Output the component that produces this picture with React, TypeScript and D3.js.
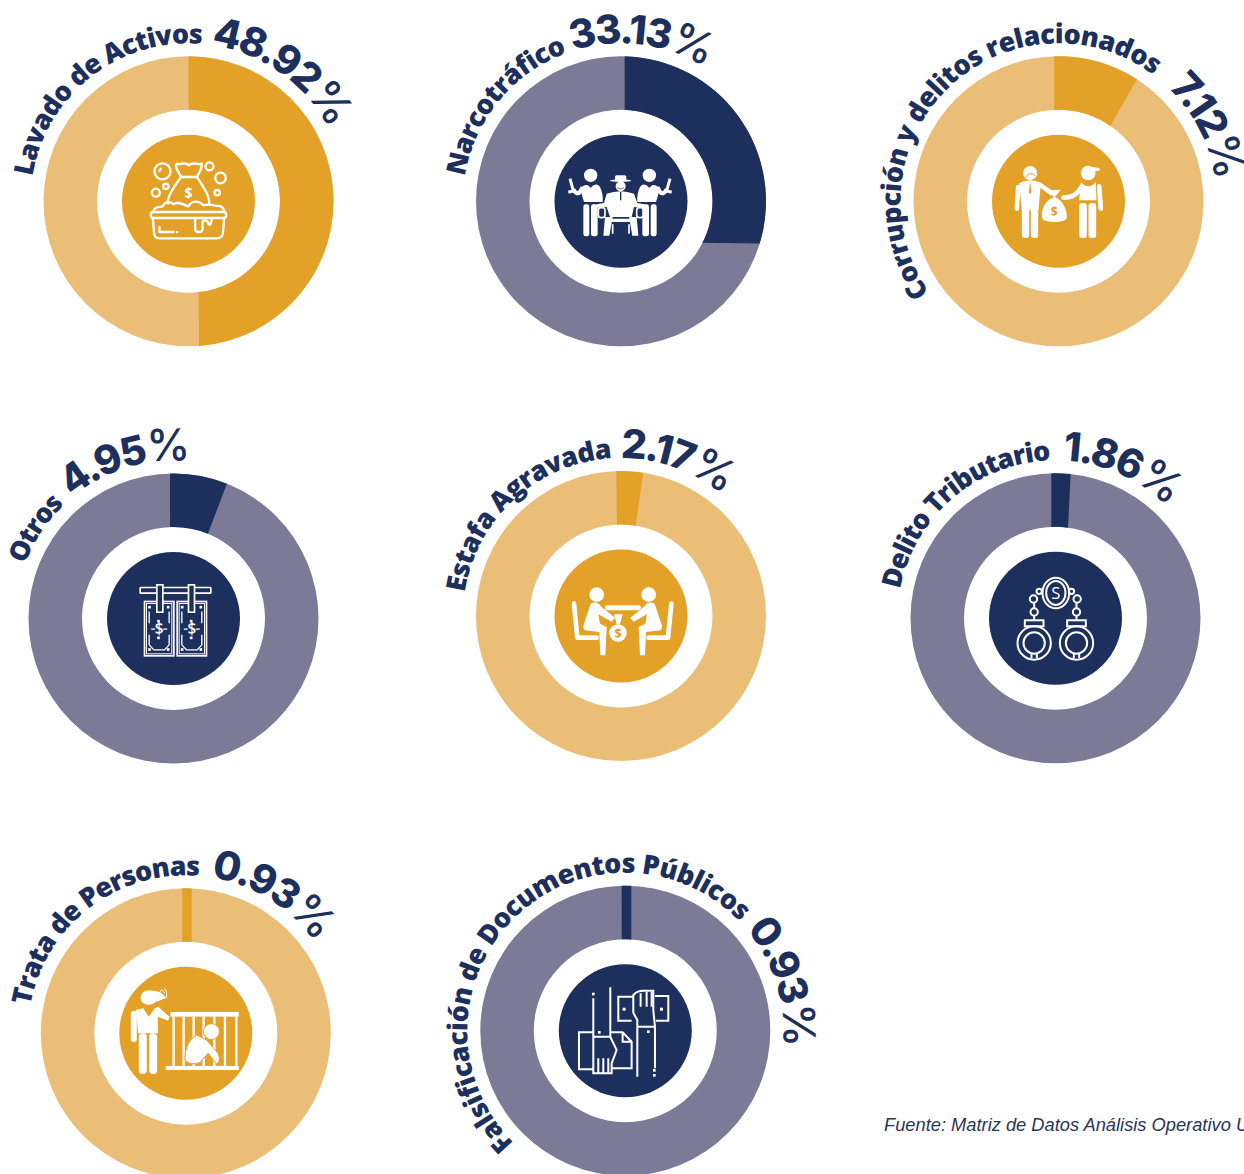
import React from "react";
import * as d3 from "d3";

// ---- data
const categories = ["Lavado de Activos","Narcotráfico","Corrupción y delitos relacionados","Otros","Estafa Agravada","Delito Tributario","Trata de Personas","Falsificación de Documentos Públicos"];
const valueLabels = ["48.92","33.13","7.12","4.95","2.17","1.86","0.93","0.93"];
const palettes = ["gold","navy","gold","navy","gold","navy","gold","navy"];
// drawn share of the ring (percent of the circle) at its outer and inner edges
const outerStart = [0, 0.4, -0.46, -0.38, -0.52, -0.46, -0.38, -0.4];
const outerEnd = [48.85, 29.7, 9.1, 6.0, 2.46, 1.67, 0.65, 0.66];
const innerStart = [0, 0.64, -0.73, -0.6, -0.7, -0.73, -0.61, -0.62];
const innerEnd = [48.2, 32.5, 9.6, 6.14, 2.56, 2.18, 1.03, 1.04];
const footnote = "Fuente: Matriz de Datos Análisis Operativo U";

// ---- layout
const W = 1244, H = 1174;
const R = 145, r = 91.5, hub = 66.5, textR = 158;
const centers: [number, number][] = [[188.5,201.3],[621,201.3],[1058.5,201.3],[173.5,618.5],[621,616],[1055.5,618.3],[185.8,1033.3],[625.3,1030.7]];
const labelSpan: [number, number][] = [[-81,5],[-81,-20],[-125.3,37],[-70,-43.7],[-81.5,-3.3],[-79.5,-1.7],[-80,5],[-135.2,46.4]];
const valueStart: number[] = [8.2,-17.8,44,-40,-0.2,2.5,9,49.8];
const colors: Record<string, { dark: string; light: string }> = {
  gold: { dark: "#E3A127", light: "#EBBE78" },
  navy: { dark: "#1D2F5C", light: "#7C7A96" },
};
const INK = "#1D2F5C";
const angle = d3.scaleLinear().domain([0, 100]).range([0, 2 * Math.PI]);
const ringArc = d3.arc<any>().innerRadius(r).outerRadius(R).startAngle(0).endAngle(2 * Math.PI);

function slicePath(os: number, oe: number, is: number, ie: number) {
  const q = -Math.PI / 2;
  const p = d3.path();
  p.arc(0, 0, R, angle(os) + q, angle(oe) + q, false);
  p.arc(0, 0, r, angle(ie) + q, angle(is) + q, true);
  p.closePath();
  return p.toString();
}
// full circle starting at the bottom, clockwise
function circlePath(rad: number) {
  return `M0,${rad}A${rad},${rad} 0 1 1 0,${-rad}A${rad},${rad} 0 1 1 0,${rad}`;
}
const W_ = "#fff";

function Icon0() {
  const s = { fill: "none", stroke: W_, strokeWidth: 7, strokeLinecap: "round" as const, strokeLinejoin: "round" as const };
  return <g {...s}>
    <circle cx={487} cy={513} r={24}/><circle cx={628} cy={498} r={12}/><circle cx={661} cy={533} r={16}/>
    <circle cx={497} cy={558} r={8}/><circle cx={467} cy={577} r={12}/><circle cx={651} cy={577} r={8}/>
    <path d="M482 505 L478 512"/>
    <path d="M543 530 C525 500 525 495 530 490 C545 496 552 482 565 495 C580 482 590 496 605 490 C605 510 595 520 590 530 Z"/>
    <path d="M543 530 C520 560 500 590 503 610"/><path d="M590 530 C610 560 630 590 627 610"/>
    <path d="M460 632 C465 615 480 622 488 618 C495 600 515 605 520 612 C535 600 550 615 565 618 C575 600 595 600 610 615 C625 610 640 615 650 617 C665 615 670 625 672 632"/>
    <rect x={452} y={635} width={226} height={18} rx={8}/>
    <path d="M458 655 L462 700 Q463 714 478 714 H650 Q666 714 668 700 L672 655"/>
    <path d="M585 655 V685 Q585 695 597 695 Q607 695 607 685 V665 Q607 660 615 660 Q625 662 625 672 Q632 678 635 655"/>
    <path d="M478 680 V695 H520"/><path d="M530 695 h1"/>
    <text x={565} y={592} textAnchor="middle" fontFamily="Open Sans" fontWeight={700} fontSize={42} fill={W_} stroke="none">$</text>
  </g>;
}
function Guard() {
  return <g fill={W_} stroke="none">
    <circle cx={482} cy={525} r={20}/>
    <path d="M450 565 Q470 545 482 562 Q498 545 510 560 Q520 580 518 605 L462 605 Z"/>
    <rect x={460} y={612} width={18} height={96} rx={7}/><rect x={483} y={612} width={20} height={96} rx={7}/>
    <path d="M455 565 Q445 590 432 570" stroke={W_} strokeWidth={12} fill="none" strokeLinecap="round"/>
    <path d="M420 535 L430 572 L415 576" stroke={W_} strokeWidth={9} fill="none"/>
  </g>;
}
function Icon1() {
  return <g fill={W_}>
    <Guard/><g transform="translate(1140,0) scale(-1,1)"><Guard/></g>
    <ellipse cx={572} cy={541} rx={32} ry={4}/><rect x={555} y={525} width={34} height={16} rx={5}/>
    <circle cx={572} cy={558} r={15}/>
    <path d="M562 562 Q572 570 582 562" stroke={INK} strokeWidth={2} fill="none"/>
    <path d="M530 580 Q572 565 612 580 L622 608 L642 612 L640 622 L612 620 L605 650 L540 650 L530 620 L500 622 L500 612 L522 608 Z"/>
    <path d="M572 575 V600" stroke={INK} strokeWidth={4}/>
    <rect x={505} y={622} width={20} height={30} rx={8} fill="none" stroke={W_} strokeWidth={5}/>
    <rect x={620} y={622} width={20} height={30} rx={8} fill="none" stroke={W_} strokeWidth={5}/>
    <path d="M525 650 L548 650 L538 706 L520 706 Z"/><path d="M620 650 L597 650 L607 706 L625 706 Z"/>
    <rect x={545} y={655} width={55} height={10} rx={2}/>
    <path d="M548 672 V700 M597 672 V700" stroke={W_} strokeWidth={5}/>
  </g>;
}
function Icon2() {
  return <g fill={W_}>
    <circle cx={498} cy={518} r={21}/>
    <path d="M485 530 Q498 512 512 526" stroke="#E3A127" strokeWidth={3} fill="none"/>
    <path d="M462 560 L458 625" stroke={W_} strokeWidth={14} strokeLinecap="round" fill="none"/>
    <path d="M525 552 L562 578" stroke={W_} strokeWidth={14} strokeLinecap="round" fill="none"/>
    <path d="M465 548 Q498 532 530 548 L523 630 H473 Z"/>
    <rect x={473} y={620} width={22} height={93} rx={9}/><rect x={500} y={620} width={22} height={93} rx={9}/>
    <path d="M498 545 L494 575 L498 582 L502 575 Z" fill="#E3A127"/>
    <path d="M548 570 L590 568 L572 590 C600 600 612 640 607 655 C597 668 545 668 535 655 C528 635 540 600 570 590Z"/>
    <text x={570} y={646} textAnchor="middle" fontFamily="Open Sans" fontWeight={700} fontSize={36} fill="#E3A127">$</text>
    <circle cx={672} cy={518} r={22}/><ellipse cx={690} cy={507} rx={18} ry={6}/>
    <path d="M652 560 C640 580 628 592 598 592" stroke={W_} strokeWidth={14} strokeLinecap="round" fill="none"/>
    <path d="M705 558 L710 625" stroke={W_} strokeWidth={14} strokeLinecap="round" fill="none"/>
    <path d="M650 545 Q672 570 695 545 L697 600 H645 Z"/>
    <rect x={645} y={608} width={23} height={105} rx={9}/><rect x={673} y={608} width={23} height={105} rx={9}/>
  </g>;
}
function Bill({ x }: { x: number }) {
  const sq = [[x + 11, 588],[x + 67, 588],[x + 11, 715],[x + 67, 715],[x + 38, 630],[x + 38, 680]];
  return <g>
    <rect x={x} y={575} width={88} height={163} stroke={W_} strokeWidth={5} fill="none"/>
    <rect x={x + 6} y={581} width={76} height={151} stroke={W_} strokeWidth={3} fill="none"/>
    {sq.map(([a, b], i) => <rect key={i} x={a} y={b} width={8} height={8} fill={W_}/>)}
    <path d={`M${x + 14} 605 V640 M${x + 74} 605 V640 M${x + 14} 675 V705 L${x + 28} 720 H${x + 60} L${x + 74} 705 V675`} stroke={W_} strokeWidth={4} fill="none"/>
    <text x={x + 44} y={672} textAnchor="middle" fontFamily="Open Sans" fontWeight={600} fontSize={46} fill={W_}>$</text>
    <path d={`M${x + 20} 658 h12 M${x + 56} 658 h12`} stroke={W_} strokeWidth={4}/>
  </g>;
}
function Icon3() {
  return <g>
    <Bill x={433}/><Bill x={531}/>
    <rect x={420} y={533} width={212} height={17} rx={2} fill={INK} stroke={W_} strokeWidth={5}/>
    <rect x={470} y={525} width={18} height={82} fill={INK} stroke={W_} strokeWidth={5}/>
    <rect x={565} y={525} width={18} height={82} fill={INK} stroke={W_} strokeWidth={5}/>
  </g>;
}
function Sitter() {
  return <g fill={W_}>
    <circle cx={500} cy={553} r={22}/>
    <path d="M482 580 Q500 570 515 590 L555 622 L545 634 L505 612 L510 640 L530 650 L526 735 L511 735 L508 665 L465 660 Q456 650 462 640 Z"/>
    <path d="M432 580 L442 682 H500" stroke={W_} strokeWidth={14} strokeLinecap="round" strokeLinejoin="round" fill="none"/>
  </g>;
}
function Icon4() {
  return <g fill={W_}>
    <Sitter/><g transform="translate(1156,0) scale(-1,1)"><Sitter/></g>
    <rect x={525} y={585} width={108} height={15} rx={7}/>
    <path d="M552 612 L578 612 L570 642 L560 642 Z"/><circle cx={564} cy={668} r={26}/>
    <text x={564} y={684} textAnchor="middle" fontFamily="Open Sans" fontWeight={700} fontSize={38} fill="#E3A127">$</text>
  </g>;
}
function Icon5() {
  const s = { fill: "none", stroke: W_, strokeWidth: 6 };
  const Cuff = ({ x }: { x: number }) => <g>
    <rect x={x - 28} y={632} width={56} height={18}/>
    <circle cx={x} cy={700} r={50}/><circle cx={x} cy={700} r={32}/>
    <path d={`M${x - 8} 745 v-13 M${x + 8} 745 v-13`}/>
  </g>;
  return <g {...s}>
    <ellipse cx={575} cy={550} rx={40} ry={46}/><ellipse cx={575} cy={550} rx={29} ry={36}/>
    <text x={575} y={568} textAnchor="middle" fontFamily="Open Sans" fontWeight={400} fontSize={50} fill={W_} stroke="none">S</text>
    <circle cx={525} cy={545} r={8}/><circle cx={508} cy={568} r={11}/><circle cx={510} cy={607} r={11}/>
    <circle cx={622} cy={545} r={8}/><circle cx={639} cy={568} r={11}/><circle cx={637} cy={607} r={11}/>
    <path d="M510 580 V596 M637 580 V596 M510 618 V632 M637 618 V632"/>
    <Cuff x={510}/><Cuff x={637}/>
  </g>;
}
function Icon6() {
  const bars = [518, 548, 578, 608, 640, 672, 706];
  return <g fill={W_}>
    <ellipse cx={447} cy={533} rx={25} ry={22}/>
    <path d="M440 515 Q480 505 498 534 L470 545 Z"/>
    <path d="M480 515 Q490 505 494 520 M494 505 Q505 515 498 535" stroke={W_} strokeWidth={3} fill="none"/>
    <path d="M408 570 L430 565 L447 590 L465 565 L476 560 Q490 575 510 590 L505 602 L474 590 V640 H415 Z"/>
    <rect x={393} y={572} width={18} height={94} rx={9}/>
    <rect x={417} y={640} width={24} height={122} rx={11}/><rect x={448} y={640} width={24} height={122} rx={11}/>
    <rect x={512} y={576} width={205} height={14}/><rect x={498} y={738} width={219} height={12}/>
    {bars.map((b) => <rect key={b} x={b} y={590} width={7} height={148}/>)}
    <circle cx={635} cy={635} r={24} stroke="#E3A127" strokeWidth={3}/>
    <path d="M590 645 Q555 665 555 720 Q570 738 600 728 L625 700 L650 732 Q665 725 655 700 L620 660 Z" stroke="#E3A127" strokeWidth={3}/>
  </g>;
}
function Icon7() {
  return <g fill="none" stroke={W_} strokeWidth={6}>
    <path d="M490 535 V650 M541 502 V652 M490 650 H541 L560 690 L545 730 V760 H490 Z"/>
    <path d="M505 715 V760 M520 715 V760 M535 715 V760"/>
    <path d="M490 637 H447 V748 H490 M541 637 H578 L605 665 V745 H545 M578 637 V665 H605"/>
    <path d="M622 770 V600 L610 578 V525 Q620 512 640 512 H670 V570 L675 620 V745 M622 620 H675"/>
    <path d="M632 520 V560 M650 516 V560 M665 516 V560"/>
    <path d="M610 530 H565 V602 H605 M675 528 H715 V602 H678"/>
    <g fill={W_} stroke="none">
      <rect x={486} y={518} width={8} height={8}/><rect x={578} y={563} width={9} height={9}/><rect x={690} y={563} width={9} height={9}/>
      <rect x={651} y={631} width={8} height={8}/><rect x={504} y={633} width={8} height={8}/><rect x={669} y={747} width={8} height={8}/><rect x={669} y={762} width={8} height={8}/>
    </g>
  </g>;
}
const icons = [Icon0, Icon1, Icon2, Icon3, Icon4, Icon5, Icon6, Icon7];
const iconOrigin: [number, number][] = [[565,603],[573,603],[583,603],[520,626],[573,617],[574,626],[558,640],[586,632]];

function Donut({ i }: { i: number }) {
  const [cx, cy] = centers[i];
  const c = colors[palettes[i]];
  const Ic = icons[i];
  const [ox, oy] = iconOrigin[i];
  const rad = (d: number) => ((d + 180) * Math.PI / 180) * textR;
  const [la, lb] = labelSpan[i];
  const pid = `tp${i}`;
  return <g transform={`translate(${cx},${cy})`}>
    <path d={ringArc({}) as string} fill={c.light}/>
    <path d={slicePath(outerStart[i], outerEnd[i], innerStart[i], innerEnd[i])} fill={c.dark}/>
    <circle r={hub} fill={c.dark}/>
    <g transform={`scale(${1 / 3}) translate(${-ox},${-oy})`}><Ic/></g>
    <path id={pid} d={circlePath(textR)} fill="none"/>
    <text fontFamily="'Open Sans'" fontWeight={800} fontSize={27} fill={INK}>
      <textPath href={`#${pid}`} startOffset={rad(la)} textLength={rad(lb) - rad(la)} lengthAdjust="spacing">{categories[i]}</textPath>
    </text>
    <text fontFamily="Inter" fontWeight={800} fontSize={40} letterSpacing={-2.2} fill={INK}>
      <textPath href={`#${pid}`} startOffset={rad(valueStart[i])}>{valueLabels[i]}<tspan fontWeight={500} fontSize={44}>%</tspan></textPath>
    </text>
  </g>;
}

export default function App() {
  return <svg width={W} height={H} viewBox={`0 0 ${W} ${H}`} style={{ position: "absolute", left: 0, top: 0, display: "block", background: "#fff", overflow: "hidden" }}>
    {categories.map((_, i) => <Donut key={i} i={i}/>)}
    <text x={884} y={1131} fontFamily="'Liberation Sans'" fontStyle="italic" fontSize={18.3} fill="#2A3558">{footnote}</text>
  </svg>;
}
